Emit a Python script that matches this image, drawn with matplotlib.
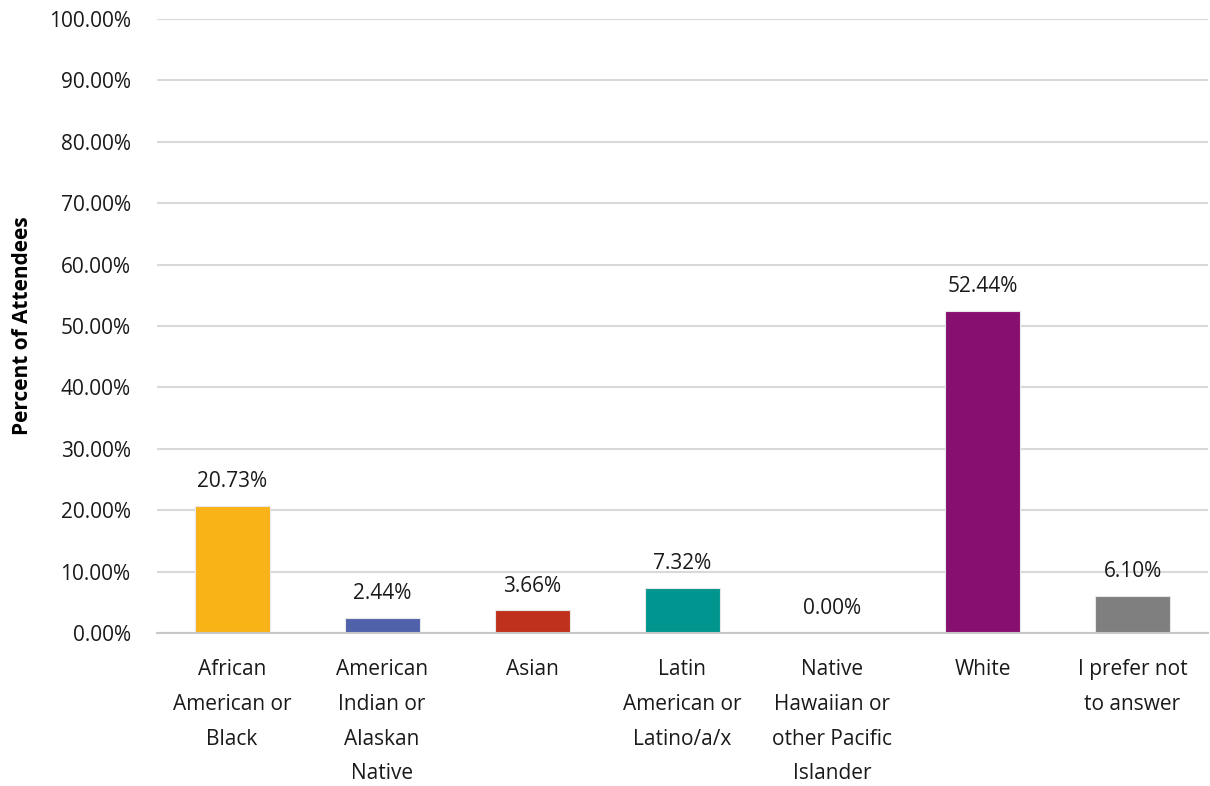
import matplotlib
matplotlib.use("Agg")
import matplotlib.pyplot as plt
from matplotlib.ticker import FuncFormatter

plt.rcParams['font.family'] = ['Open Sans', 'DejaVu Sans']

categories = ["African\nAmerican or\nBlack", "American\nIndian or\nAlaskan\nNative", "Asian",
              "Latin\nAmerican or\nLatino/a/x", "Native\nHawaiian or\nother Pacific\nIslander",
              "White", "I prefer not\nto answer"]
values = [20.73, 2.44, 3.66, 7.32, 0.00, 52.44, 6.10]
colors = ["#F9B316", "#5162AD", "#BF311C", "#00968F", "#7F7F7F", "#860F70", "#7F7F7F"]

fig = plt.figure(figsize=(12.1, 7.86), dpi=100)
ax = fig.add_axes([0.1298, 0.1947, 0.8682, 0.7811])

x = range(len(categories))
bars = ax.bar(x, values, width=0.5, color=colors, edgecolor="#E8E8E8", linewidth=0.8, zorder=3)

for b, v in zip(bars, values):
    ax.annotate(f"{v:.2f}%", (b.get_x() + b.get_width() / 2, v), xytext=(0, 10),
                textcoords="offset points", ha="center", va="bottom", fontsize=15, color="#1a1a1a")

ax.set_ylim(0, 100)
ax.set_xlim(-0.5, len(categories) - 0.5)
ax.set_yticks(range(0, 101, 10))
ax.yaxis.set_major_formatter(FuncFormatter(lambda v, p: f"{v:.2f}%"))
ax.grid(axis="y", color="#D9D9D9", linewidth=1.5, zorder=0)
ax.set_xticks(list(x))
ax.set_xticklabels(categories, fontsize=15, color="#1a1a1a", linespacing=1.85, va="top")
ax.tick_params(axis="both", length=0, labelsize=15, labelcolor="#1a1a1a")
ax.tick_params(axis="x", pad=19)
ax.tick_params(axis="y", pad=19)
for s in ["top", "right", "left"]:
    ax.spines[s].set_visible(False)
ax.spines["bottom"].set_color("#C8C8C8")
ax.spines["bottom"].set_linewidth(1.5)
ax.spines["bottom"].set_zorder(4)

ax.set_ylabel("Percent of Attendees", fontsize=15, fontweight="bold")
ax.yaxis.set_label_coords(-0.118, 0.5)

fig.savefig("out.png", dpi=100)
